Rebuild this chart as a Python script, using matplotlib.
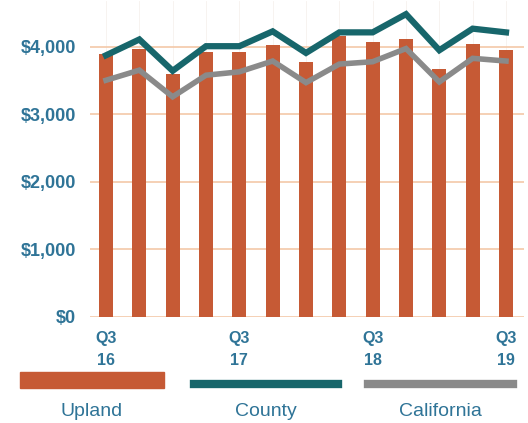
import numpy as np
import matplotlib.pyplot as plt
from matplotlib.patches import Rectangle
from matplotlib.lines import Line2D

# quarterly values, Q3 2016 .. Q3 2019
quarters = ['Q3\n16', '', '', '', 'Q3\n17', '', '', '', 'Q3\n18', '', '', '', 'Q3\n19']
upland = [3890, 3975, 3605, 3925, 3925, 4035, 3780, 4160, 4065, 4115, 3670, 4040, 3960]
county = [3875, 4110, 3645, 4010, 4010, 4230, 3910, 4215, 4215, 4485, 3950, 4270, 4215]
california = [3505, 3655, 3260, 3580, 3630, 3790, 3470, 3745, 3780, 3975, 3480, 3830, 3790]
yticks = [0, 1000, 2000, 3000, 4000]
ytick_labels = ['$0', '$1,000', '$2,000', '$3,000', '$4,000']
series_names = ['Upland', 'County', 'California']

bar_c = '#c65a35'
teal = '#17666b'
grey = '#8a8a8a'
blue = '#2f7497'
grid_c = '#f3c8a8'

plt.rcParams['font.family'] = ['Liberation Sans', 'DejaVu Sans']

fig = plt.figure(figsize=(5.28, 4.23), dpi=100)
ax = fig.add_axes([90 / 528, 1 - 316.7 / 423, 434 / 528, 315.7 / 423])

x = np.arange(len(upland))
ax.bar(x, upland, width=0.42, color=bar_c, zorder=2)
ax.plot(x, county, color=teal, linewidth=4.5, zorder=3, solid_joinstyle='miter')
ax.plot(x, california, color=grey, linewidth=4, zorder=3, solid_joinstyle='miter')

ax.set_xlim(-0.48, 12.54)
ax.set_ylim(0, 4680)
ax.set_yticks(yticks)
ax.set_yticklabels(ytick_labels, fontsize=13, fontweight='bold', color=blue)
ax.set_xticks(x)
ax.set_xticklabels(quarters, fontsize=11.5, fontweight='bold', color=blue, linespacing=1.65)
ax.tick_params(axis='both', length=0)
ax.tick_params(axis='y', pad=10)
ax.tick_params(axis='x', pad=10)
ax.yaxis.grid(True, color=grid_c, linewidth=1.2, zorder=1)
ax.xaxis.grid(True, color='#f6f1ee', linewidth=0.6, zorder=0)
for s in ax.spines.values():
    s.set_visible(False)

# legend drawn below the plot
lg = fig.add_axes([0, 0, 1, 1], facecolor='none')
lg.set_xlim(0, 528)
lg.set_ylim(423, 0)
lg.axis('off')
lg.add_patch(Rectangle((20, 372), 144, 16, color=bar_c))
lg.add_line(Line2D([194, 338], [384, 384], color=teal, linewidth=6))
lg.add_line(Line2D([368, 513], [384, 384], color=grey, linewidth=6))
for name, cx in zip(series_names, [92, 266, 440]):
    lg.text(cx, 411, name, ha='center', va='center', fontsize=14, color=blue)

fig.savefig('out.png', dpi=100)
